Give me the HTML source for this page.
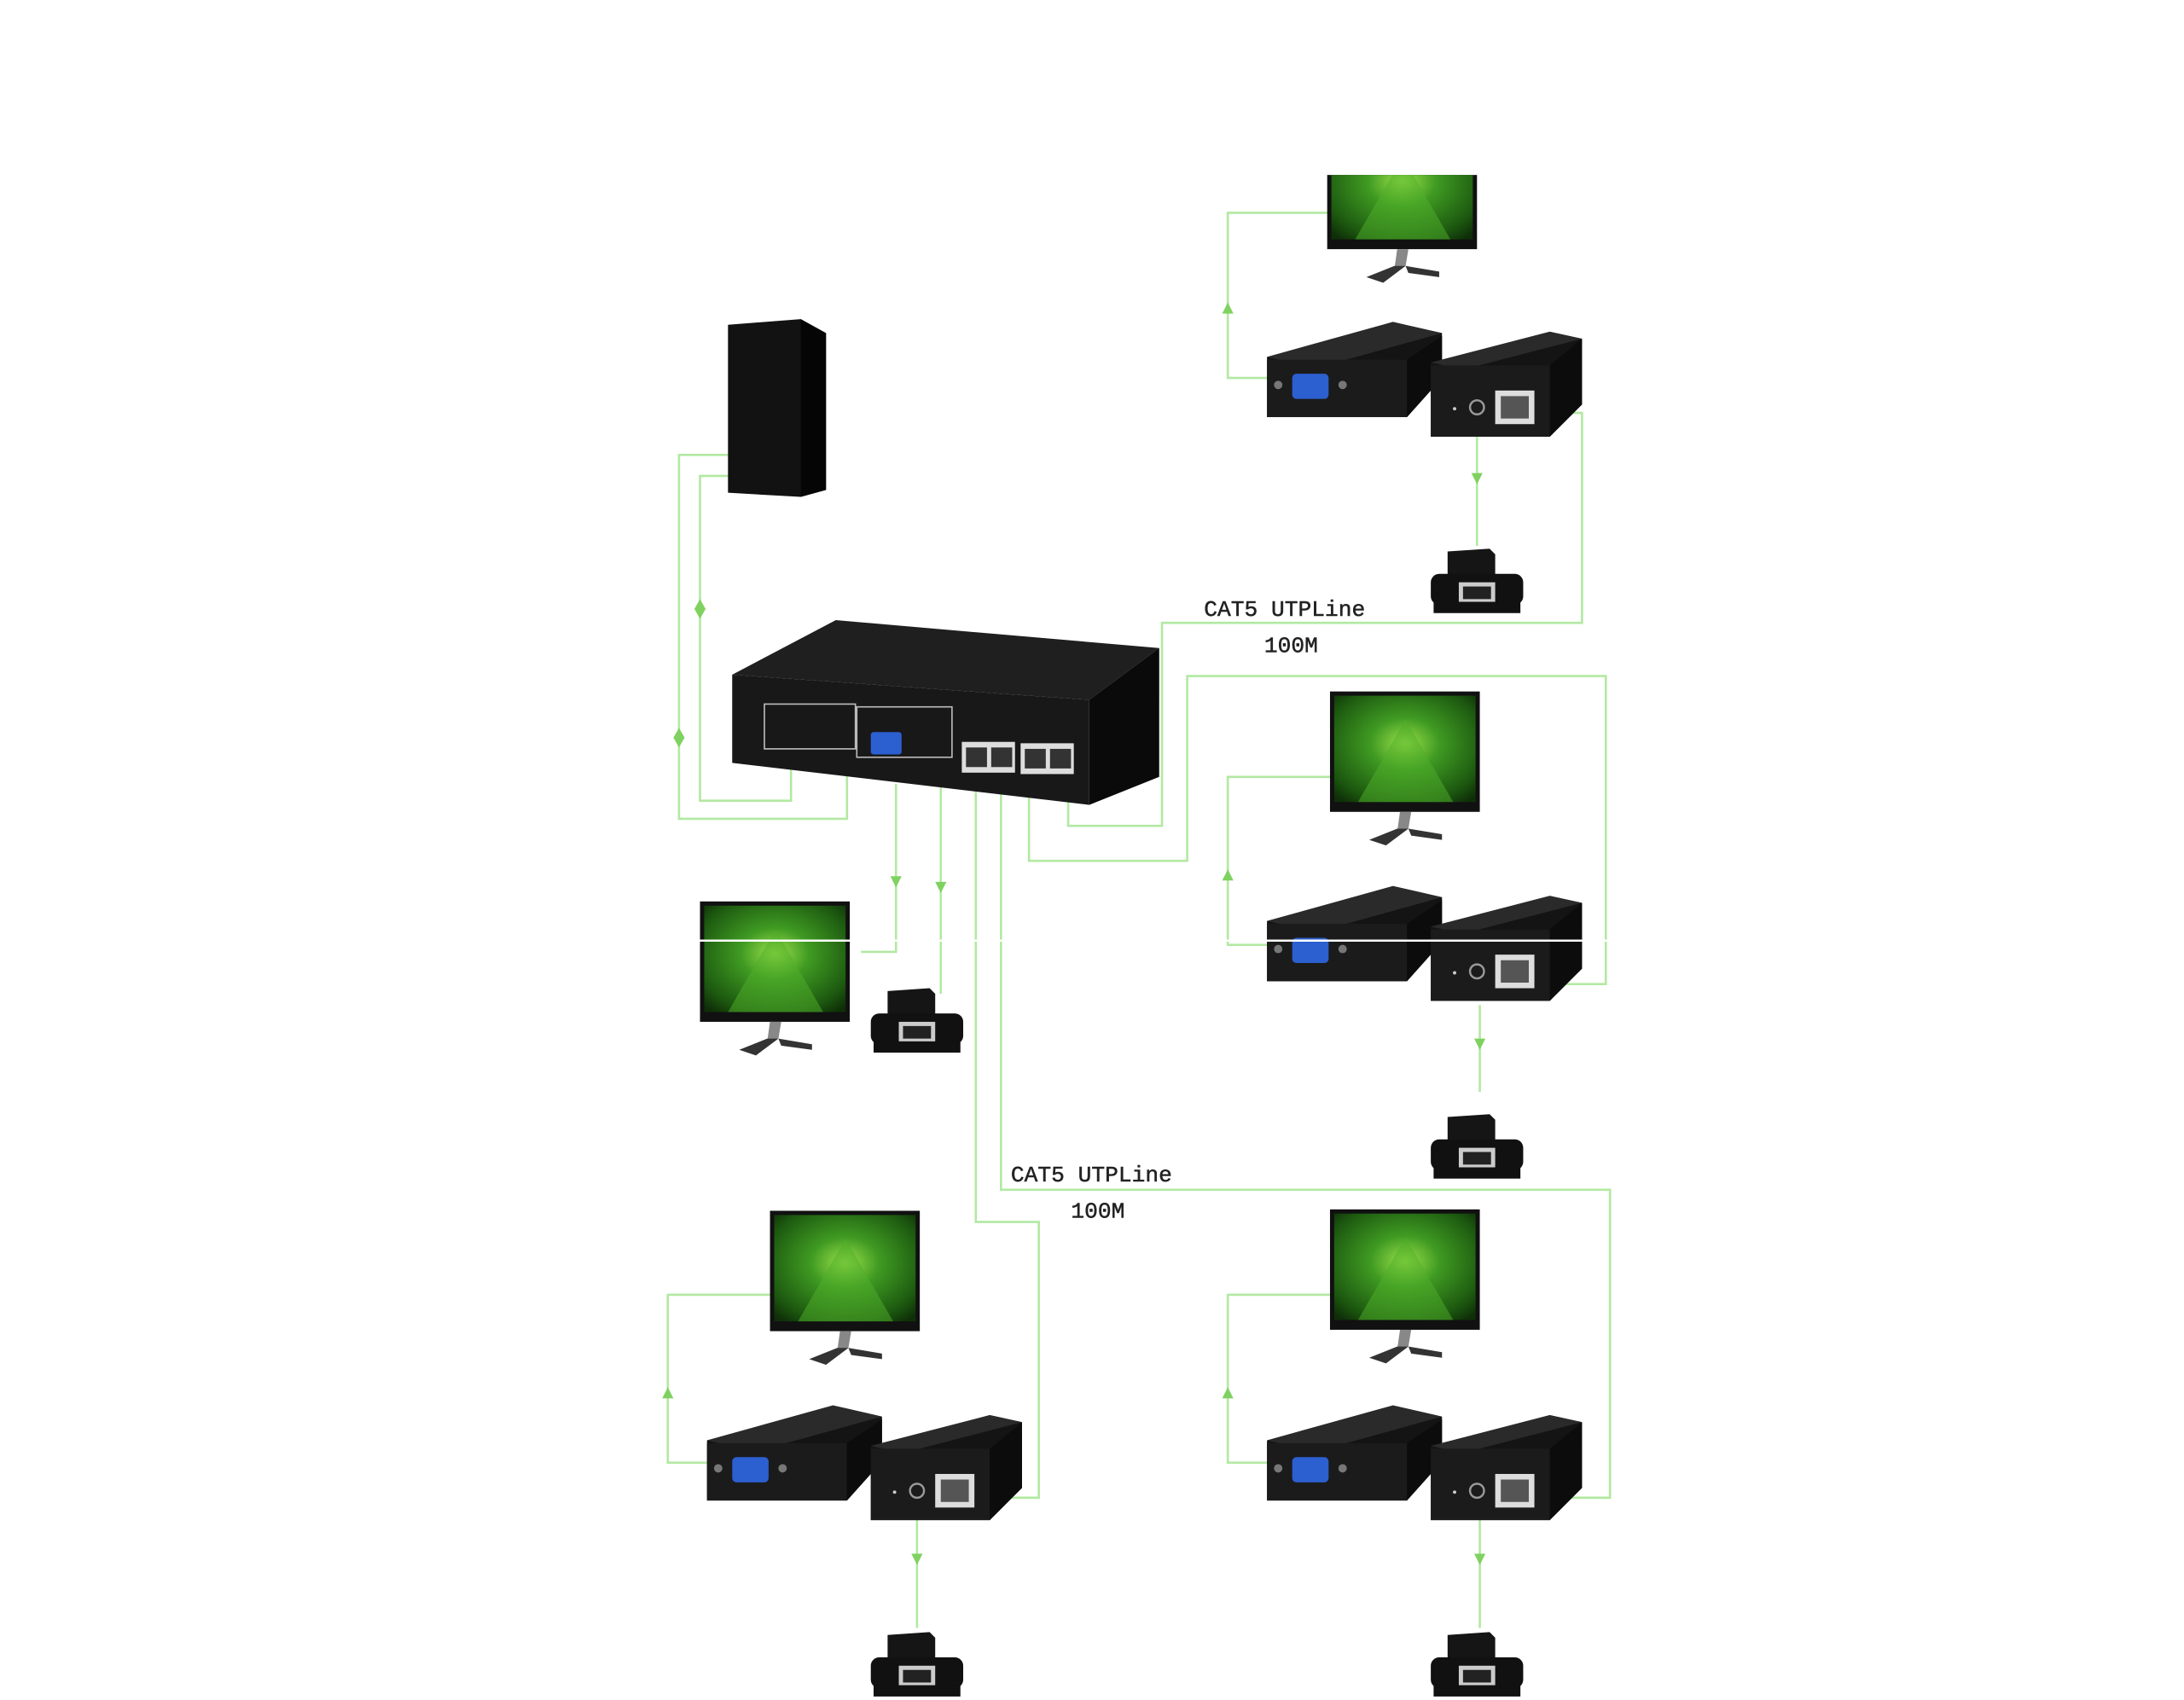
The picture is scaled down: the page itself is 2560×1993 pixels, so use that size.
<!DOCTYPE html>
<html><head><meta charset="utf-8"><style>
html,body{margin:0;padding:0;background:#fff;}
svg{display:block;}
text{font-family:"Liberation Mono","DejaVu Sans Mono",monospace;}
</style></head><body>
<svg width="2560" height="1993" viewBox="0 0 1560 1214.5" preserveAspectRatio="none" xmlns="http://www.w3.org/2000/svg">
<defs>
<radialGradient id="scr" cx="0.5" cy="0.45" r="0.7">
<stop offset="0" stop-color="#9be04a"/><stop offset="0.35" stop-color="#3f9a22"/><stop offset="0.8" stop-color="#1d5a10"/><stop offset="1" stop-color="#0f2f08"/>
</radialGradient>
<clipPath id="topclip"><rect x="900" y="125" width="200" height="100"/></clipPath>
<g id="mon">
<rect x="0" y="0" width="107" height="86" fill="#111"/>
<rect x="3" y="3" width="101" height="76" fill="url(#scr)"/>
<path d="M20 79 L54 20 L88 79 Z" fill="#4fb02a" opacity="0.5"/>
<polygon points="50,86 58,86 56,98 48,100" fill="#888"/>
<polygon points="28,106 48,98 56,98 40,110" fill="#333"/>
<polygon points="56,98 80,102 80,106 58,103" fill="#333"/>
</g>
<g id="units">
<polygon points="0,25 90,0 125,8 125,40 100,68 0,68" fill="#141414"/>
<polygon points="0,25 90,0 125,8 35,33" fill="#2a2a2a"/>
<rect x="0" y="27" width="100" height="41" fill="#1b1b1b"/>
<polygon points="100,27 125,10 125,40 100,68" fill="#0c0c0c"/>
<rect x="18" y="37" width="26" height="18" rx="3" fill="#2c5fd0"/>
<circle cx="8" cy="45" r="3" fill="#777"/><circle cx="54" cy="45" r="3" fill="#777"/>
<g transform="translate(117,7)">
<polygon points="0,22 85,0 108,5 108,52 85,75 0,75" fill="#141414"/>
<polygon points="0,22 85,0 108,5 23,27" fill="#2a2a2a"/>
<rect x="0" y="24" width="85" height="51" fill="#1b1b1b"/>
<polygon points="85,24 108,5 108,52 85,75" fill="#0c0c0c"/>
<rect x="46" y="42" width="28" height="24" fill="#ddd"/><rect x="50" y="46" width="20" height="16" fill="#555"/>
<circle cx="33" cy="54" r="5" fill="none" stroke="#999" stroke-width="1.5"/>
<circle cx="17" cy="55" r="1.2" fill="#ccc"/>
</g>
</g>
<g id="dev">
<polygon points="12,2 42,0 46,4 46,28 12,30" fill="#151515"/>
<rect x="0" y="18" width="66" height="22" rx="6" fill="#111"/>
<rect x="20" y="24" width="26" height="14" fill="#ccc"/><rect x="23" y="27" width="20" height="9" fill="#222"/>
<rect x="2" y="38" width="62" height="8" fill="#111"/>
</g>
</defs>
<g fill="none" stroke="#b2e9a2" stroke-width="1.6">
<polyline points="950,152 877,152 877,270 907,270"/>
<polyline points="1085,295 1130,295 1130,445 830,445 830,590 763,590 763,565"/>
<polyline points="1055,312 1055,390"/>
<polyline points="522,325 485,325 485,585 605,585 605,525"/>
<polyline points="522,340 500,340 500,572 565,572 565,530"/>
<polyline points="735,560 735,615 848,615 848,483 1147,483 1147,703 1100,703"/>
<polyline points="950,555 877,555 877,675 910,675"/>
<polyline points="1057,718 1057,780"/>
<polyline points="715,560 715,850 1150,850 1150,1070 1100,1070"/>
<polyline points="697,555 697,873 742,873 742,1070 700,1070"/>
<polyline points="640,560 640,680 615,680"/>
<polyline points="672,560 672,710"/>
<polyline points="550,925 477,925 477,1045 510,1045"/>
<polyline points="655,1085 655,1163"/>
<polyline points="950,925 877,925 877,1045 910,1045"/>
<polyline points="1057,1085 1057,1163"/>
</g>
<g fill="#7fd25f">
<path d="M873,224 L877,216 L881,224 Z"/><path d="M1051,338 L1055,346 L1059,338 Z"/>
<path d="M496,435 L500,428 L504,435 L500,442 Z"/><path d="M481,527 L485,520 L489,527 L485,534 Z"/>
<path d="M873,629 L877,621 L881,629 Z"/><path d="M1053,742 L1057,750 L1061,742 Z"/>
<path d="M636,626 L640,634 L644,626 Z"/><path d="M668,630 L672,638 L676,630 Z"/>
<path d="M473,999 L477,991 L481,999 Z"/><path d="M651,1110 L655,1118 L659,1110 Z"/>
<path d="M873,999 L877,991 L881,999 Z"/><path d="M1053,1110 L1057,1118 L1061,1110 Z"/>
</g>
<polygon points="520,232 572,228 590,238 590,350 572,355 520,352" fill="#121212"/>
<polygon points="572,228 590,238 590,350 572,355" fill="#050505"/>
<polygon points="523,482 597,443 828,463 778,500" fill="#1f1f1f"/>
<polygon points="523,482 778,500 778,575 523,545" fill="#181818"/>
<polygon points="778,500 828,463 828,555 778,575" fill="#0a0a0a"/>
<rect x="546" y="503" width="65" height="32" fill="none" stroke="#bbb" stroke-width="1"/>
<rect x="612" y="505" width="68" height="36" fill="none" stroke="#bbb" stroke-width="1"/>
<rect x="622" y="523" width="22" height="16" rx="2" fill="#2c5fd0"/>
<rect x="687" y="530" width="38" height="22" fill="#ddd"/><rect x="690" y="534" width="15" height="14" fill="#333"/><rect x="708" y="534" width="15" height="14" fill="#333"/>
<rect x="729" y="531" width="38" height="22" fill="#ddd"/><rect x="732" y="535" width="15" height="14" fill="#333"/><rect x="750" y="535" width="15" height="14" fill="#333"/>
<g clip-path="url(#topclip)"><use href="#mon" x="948" y="92"/></g>
<use href="#units" x="905" y="230"/>
<use href="#dev" x="1022" y="392"/>
<use href="#mon" x="950" y="494"/>
<use href="#units" x="905" y="633"/>
<use href="#dev" x="1022" y="796"/>
<use href="#mon" x="500" y="644"/>
<use href="#dev" x="622" y="706"/>
<use href="#mon" x="550" y="865"/>
<use href="#units" x="505" y="1004"/>
<use href="#dev" x="622" y="1166"/>
<use href="#mon" x="950" y="864"/>
<use href="#units" x="905" y="1004"/>
<use href="#dev" x="1022" y="1166"/>
<line x1="500" y1="672" x2="1150" y2="672" stroke="#fff" stroke-width="1.5"/>
<g fill="#222" font-size="16" stroke="#222" stroke-width="0.3">
<text x="860" y="440">CAT5 UTPLine</text>
<text x="903" y="466">100M</text>
<text x="722" y="844">CAT5 UTPLine</text>
<text x="765" y="870">100M</text>
</g>
</svg>
</body></html>
